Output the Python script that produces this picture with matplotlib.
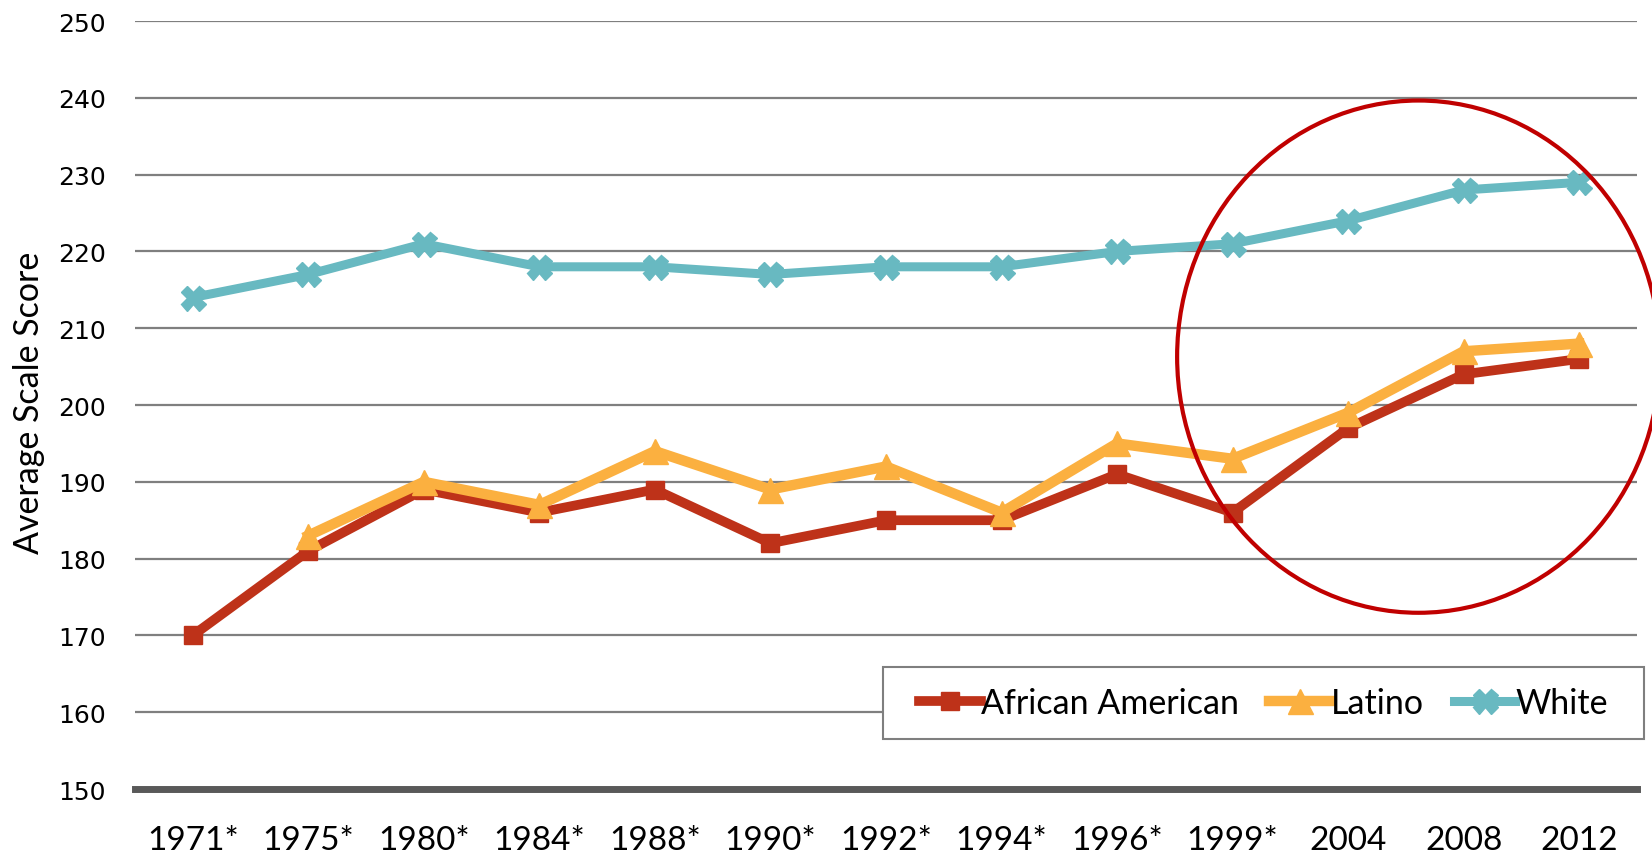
import numpy as np
import matplotlib.pyplot as plt
from matplotlib.patches import Ellipse, Rectangle

# ==============================
# Data: average scale scores by year
# ==============================
years = ['1971*', '1975*', '1980*', '1984*', '1988*', '1990*', '1992*',
         '1994*', '1996*', '1999*', '2004', '2008', '2012']
african_american = [170, 181, 189, 186, 189, 182, 185, 185, 191, 186, 197, 204, 206]
latino = [np.nan, 183, 190, 187, 194, 189, 192, 186, 195, 193, 199, 207, 208]
white = [214, 217, 221, 218, 218, 217, 218, 218, 220, 221, 224, 228, 229]
y_ticks = list(range(150, 251, 10))

c_aa = '#BE3219'
c_lat = '#FBB040'
c_wh = '#68B9C1'

fig = plt.figure(figsize=(16.52, 8.54), dpi=100)
ax = fig.add_axes([0.0817, 0.0749, 0.9092, 0.8993])

x = np.arange(len(years))
ax.plot(x, african_american, color=c_aa, lw=7, marker='s', ms=13,
        label='African American', zorder=3)
ax.plot(x, latino, color=c_lat, lw=7.5, marker='^', ms=18,
        label='Latino', zorder=4)
ax.plot(x, white, color=c_wh, lw=6.5, marker='X', ms=18,
        label='White', zorder=3)

ax.set_xlim(-0.5, len(years) - 0.5)
ax.set_ylim(150, 250)
ax.set_yticks(y_ticks)
ax.set_xticks(x)
ax.set_xticklabels(years, fontsize=24, family='Lato')
ax.set_yticklabels([str(v) for v in y_ticks], fontsize=18, family='DejaVu Sans')
ax.tick_params(axis='y', length=0, pad=21)
ax.tick_params(axis='x', length=0, pad=26)

ax.grid(axis='y', color='#7F7F7F', lw=1.6)
ax.set_axisbelow(True)
for s in ['top', 'right', 'left']:
    ax.spines[s].set_visible(False)
ax.spines['bottom'].set_color('#595959')
ax.spines['bottom'].set_linewidth(5)

ax.set_ylabel('Average Scale Score', fontsize=24.5, family='Lato')
ax.yaxis.set_label_coords(-0.06, 0.504)

# highlight the recent years
circ = Ellipse((10.61, 206.3), 4.18, 66.7, fill=False, edgecolor='#C00000',
               lw=3, clip_on=False, zorder=5)
ax.add_patch(circ)

# legend box drawn separately so the padding can be set freely
box = Rectangle((0.498, 0.065), 0.507, 0.094, transform=ax.transAxes,
                facecolor='white', edgecolor='#7F7F7F', lw=1.5,
                clip_on=False, zorder=6)
ax.add_patch(box)
leg = ax.legend(loc='center', bbox_to_anchor=(0.7515, 0.112), ncol=3,
                prop={'family': 'Lato', 'size': 24.5}, frameon=False,
                handlelength=1.8, handletextpad=0.0, columnspacing=0.9,
                borderpad=0, borderaxespad=0)
leg.set_zorder(7)

plt.savefig('out.png', dpi=100)
